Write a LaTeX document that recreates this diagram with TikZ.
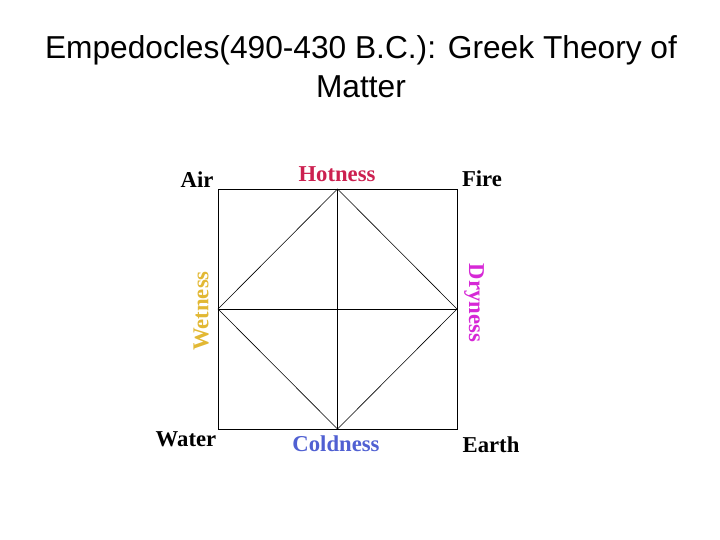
\documentclass[tikz,border=0pt]{standalone}
\usepackage{fontspec}
\setmainfont{Liberation Serif}
\newfontfamily\titlefont{Liberation Sans}
\definecolor{hotred}{RGB}{204,32,80}
\definecolor{wetgold}{RGB}{226,184,52}
\definecolor{drymag}{RGB}{214,40,214}
\definecolor{coldblue}{RGB}{80,96,210}
\tikzset{
  element/.style={inner sep=0pt, font=\fontsize{22.7}{26}\selectfont\bfseries},
  quality/.style={element, text=#1},
  frame/.style={line width=0.9pt},
  diag/.style={line width=0.6pt}
}
\begin{document}
\begin{tikzpicture}[x=1pt,y=-1pt]
\useasboundingbox (0,0) rectangle (720,540);
\node[inner sep=0pt, align=center, font=\titlefont\fontsize{31.7}{39}\selectfont] (title) at (361,67) {Empedocles(490-430 B.C.): Greek Theory of\\Matter};
% square and its corners
\coordinate (nw) at (218,189);
\coordinate (ne) at (457,189);
\coordinate (sw) at (218,429);
\coordinate (se) at (457,429);
\coordinate (n) at (337.5,189);
\coordinate (s) at (337.5,429);
\coordinate (w) at (218,309);
\coordinate (e) at (457,309);
\draw[frame] (nw) rectangle (se);
\draw[frame] (n) -- (s);
\draw[frame] (w) -- (e);
\draw[diag] (n) -- (e) -- (s) -- (w) -- cycle;
% elements
\node[element] (air) at (197,180) {Air};
\node[element] (fire) at (482,179) {Fire};
\node[element] (water) at (186,439) {Water};
\node[element] (earth) at (491,445) {Earth};
% qualities
\node[quality=hotred] (hot) at (337,174) {Hotness};
\node[quality=coldblue] (cold) at (336,444) {Coldness};
\node[quality=wetgold, rotate=90] (wet) at (201,311) {Wetness};
\node[quality=drymag, rotate=-90] (dry) at (474,303) {Dryness};
\end{tikzpicture}
\end{document}
